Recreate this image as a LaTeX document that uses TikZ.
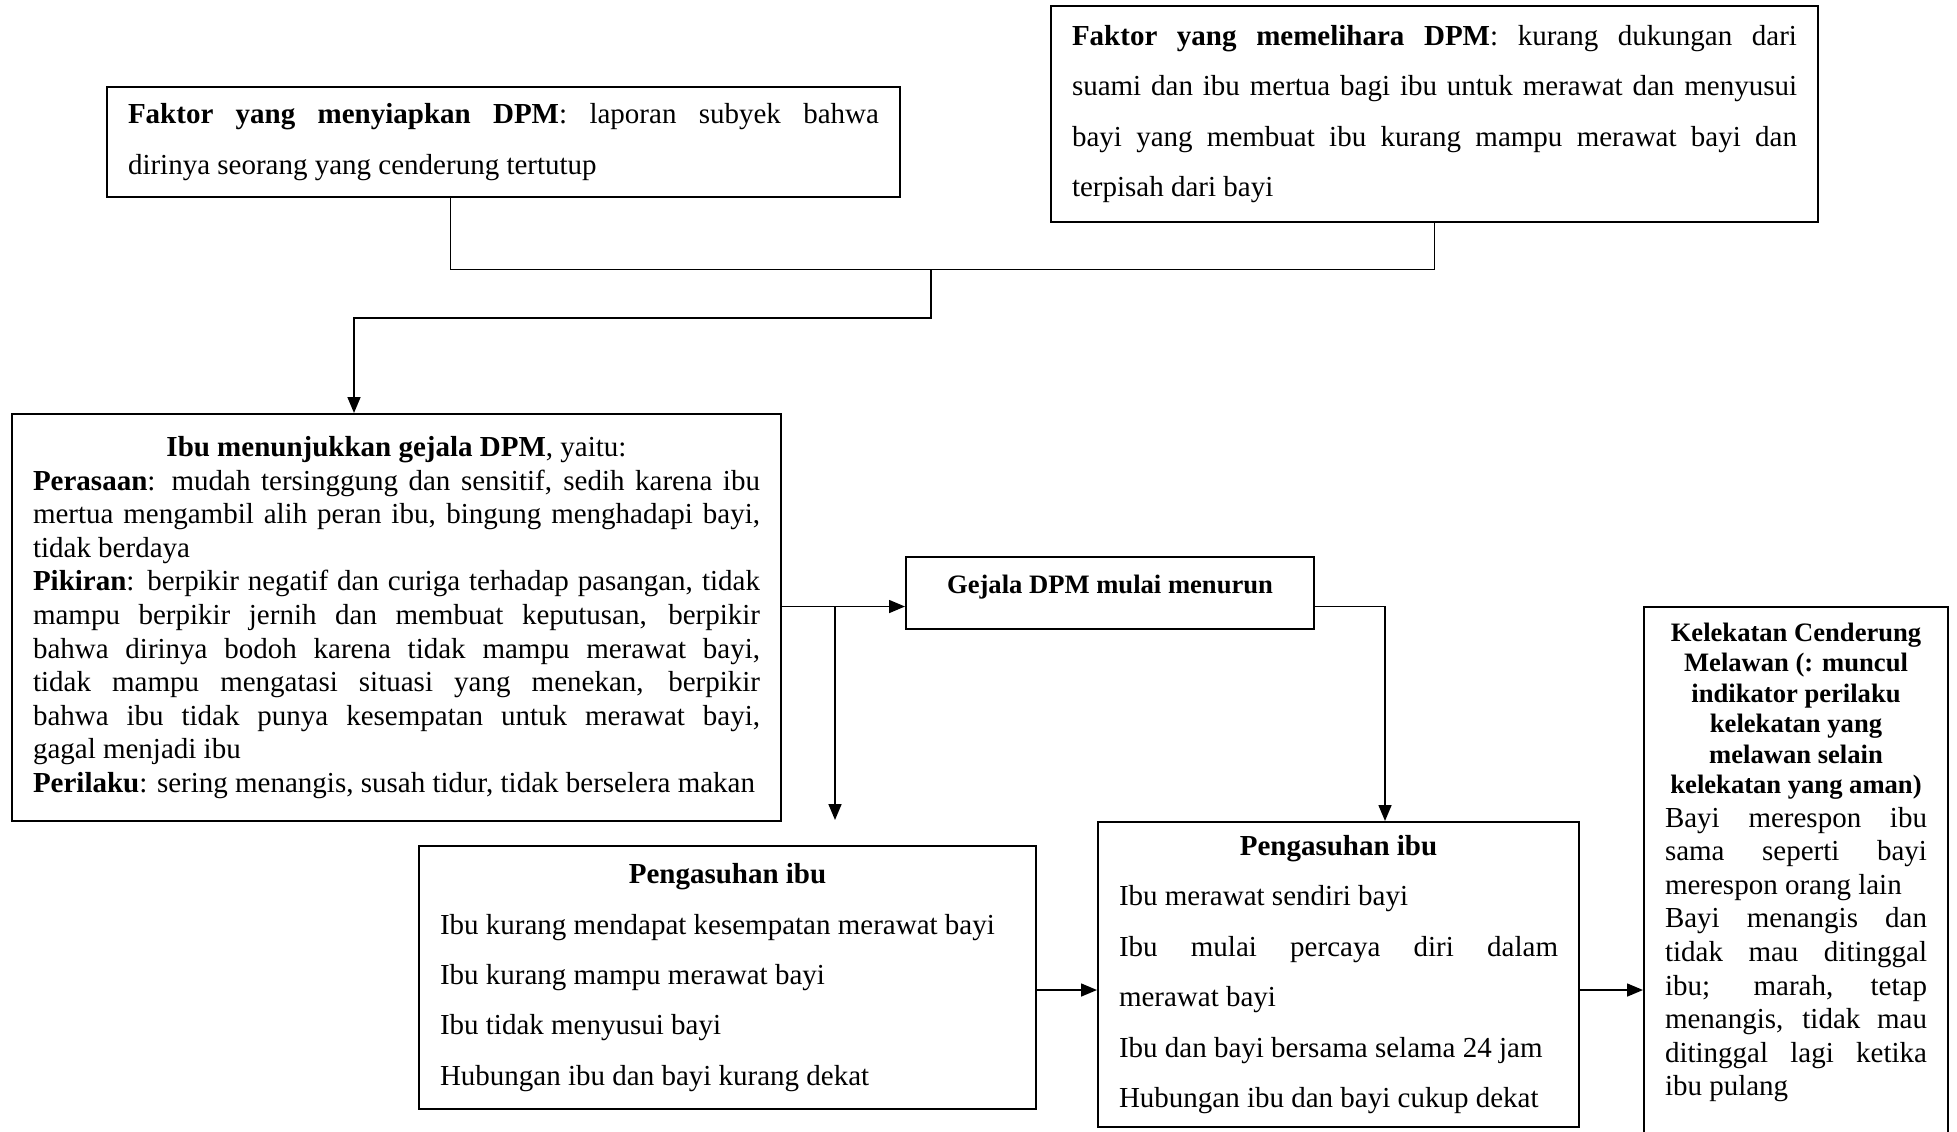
\documentclass[tikz,border=0pt]{standalone}
\usepackage{fontspec}
\setmainfont{Liberation Serif}
\usetikzlibrary{arrows.meta}

\begin{document}
\begin{tikzpicture}[x=0.5pt,y=-0.5pt,
  kotak/.style={draw, line width=1pt, inner xsep=10.5pt, inner ysep=5pt, align=justify, font=\fontsize{14.5}{16.8}\selectfont},
  renggang/.style={font=\fontsize{14.5}{25.2}\selectfont},
  panah/.style={-{Triangle[length=8pt,width=6.5pt]}, line width=0.8pt}]
\useasboundingbox (0,0) rectangle (1957,1131);
\fill[white] (0,0) rectangle (1957,1131);
% faktor
\node[kotak, renggang, text width=375.5pt, minimum height=55pt] (fak1) at (503.5,142){\textbf{Faktor yang menyiapkan DPM}: laporan subyek bahwa\linebreak dirinya seorang yang cenderung tertutup};
\node[kotak, renggang, text width=362.5pt, minimum height=108pt] (fak2) at (1434.5,114){\textbf{Faktor yang memelihara DPM}: kurang dukungan dari\linebreak suami dan ibu mertua bagi ibu untuk merawat dan menyusui\linebreak bayi yang membuat ibu kurang mampu merawat bayi dan\linebreak terpisah dari bayi};
% gejala
\node[kotak, text width=363.5pt, minimum height=203.5pt] (gej) at (396.5,617.5){\centerline{\textbf{Ibu menunjukkan gejala DPM}, yaitu:}
\textbf{Perasaan}: mudah tersinggung dan sensitif, sedih karena ibu\linebreak mertua mengambil alih peran ibu, bingung menghadapi bayi,\linebreak tidak berdaya\par
\textbf{Pikiran}: berpikir negatif dan curiga terhadap pasangan, tidak\linebreak mampu berpikir jernih dan membuat keputusan, berpikir\linebreak bahwa dirinya bodoh karena tidak mampu merawat bayi,\linebreak tidak mampu mengatasi situasi yang menekan, berpikir\linebreak bahwa ibu tidak punya kesempatan untuk merawat bayi,\linebreak gagal menjadi ibu\par
\textbf{Perilaku}: sering menangis, susah tidur, tidak berselera makan};
\node[draw, line width=1pt, minimum width=204pt, inner ysep=0pt, text height=18.1pt, text depth=17.9pt, font=\fontsize{13.3}{15.2}\selectfont\bfseries] (tur) at (1110,593){Gejala DPM mulai menurun};
% pengasuhan
\node[kotak, renggang, text width=287.5pt, minimum height=131.5pt] (asuh1) at (727.5,977.5){\centerline{\textbf{Pengasuhan ibu}}
Ibu kurang mendapat kesempatan merawat bayi\par
Ibu kurang mampu merawat bayi\par
Ibu tidak menyusui bayi\par
Hubungan ibu dan bayi kurang dekat};
\node[kotak, renggang, text width=219.5pt, minimum height=152.5pt] (asuh2) at (1338.5,974.5){\centerline{\textbf{Pengasuhan ibu}}
Ibu merawat sendiri bayi\par
Ibu mulai percaya diri dalam\linebreak merawat bayi\par
Ibu dan bayi bersama selama 24 jam\par
Hubungan ibu dan bayi cukup dekat};
% kelekatan
\node[kotak, text width=131pt, anchor=north, inner ysep=8pt] (lek) at (1796,606){{\centering\fontsize{13.3}{15.2}\selectfont\bfseries
Kelekatan Cenderung\linebreak Melawan (: muncul\linebreak indikator perilaku\linebreak kelekatan yang\linebreak melawan selain\linebreak kelekatan yang aman)\par}
Bayi merespon ibu\linebreak sama seperti bayi\linebreak merespon orang lain\par
Bayi menangis dan\linebreak tidak mau ditinggal\linebreak ibu; marah, tetap\linebreak menangis, tidak mau\linebreak ditinggal lagi ketika\linebreak ibu pulang\par\mbox{}};
% titik belok
\coordinate (gabung) at (931,269.6);
\coordinate (belok) at (931,318);
\coordinate (cabang) at (835,606.5);
\coordinate (ujung) at (835,820);
\coordinate (tengah) at (0,990);
\draw[line width=0.8pt] ([xshift=-26.5pt]fak1.south) |- (gabung) -| (fak2.south);
\draw[panah] (gabung) -- (belok) -| ([xshift=-21.25pt]gej.north);
\draw[panah] (gej.east |- cabang) -- (tur.west |- cabang);
\draw[panah] (cabang) -- (ujung);
\draw[panah] (tur.east |- cabang) -| ([xshift=23.25pt]asuh2.north);
\draw[panah] (asuh1.east |- tengah) -- (asuh2.west |- tengah);
\draw[panah] (asuh2.east |- tengah) -- (lek.west |- tengah);
\end{tikzpicture}
\end{document}
